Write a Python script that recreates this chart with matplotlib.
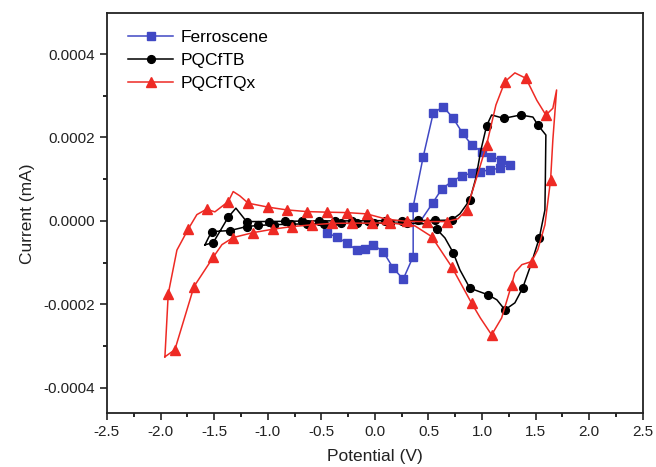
import matplotlib
matplotlib.use("Agg")
import matplotlib.pyplot as plt
from matplotlib.ticker import MultipleLocator, FormatStrFormatter

plt.rcParams['font.family'] = ['Liberation Sans', 'DejaVu Sans']

# ---------------- data ----------------
series_names = ["Ferroscene", "PQCfTB", "PQCfTQx"]

# Ferroscene (blue squares)
fc_x = [-0.451, -0.357, -0.264, -0.171, -0.093, -0.016, 0.077, 0.171, 0.264, 0.357,
        0.357, 0.451, 0.544, 0.637, 0.730, 0.818, 0.902, 0.995, 1.082, 1.175, 1.259,
        1.166, 1.073, 0.979, 0.902, 0.809, 0.715, 0.622, 0.538, 0.420]
fc_y = [-2.95e-5, -3.77e-5, -5.35e-5, -6.95e-5, -6.8e-5, -5.76e-5, -7.36e-5, -1.134e-4, -1.398e-4, -8.56e-5,
        3.43e-5, 1.542e-4, 2.583e-4, 2.741e-4, 2.463e-4, 2.103e-4, 1.823e-4, 1.662e-4, 1.542e-4, 1.463e-4, 1.343e-4,
        1.264e-4, 1.223e-4, 1.182e-4, 1.144e-4, 1.079e-4, 9.42e-5, 7.6e-5, 4.24e-5, -2.4e-6]
fc_mark = [1] * 29 + [0]

# PQCfTB (black circles)
tb_x = [-1.586, -1.508, -1.368, -1.297, -1.197,
        -0.990, -0.835, -0.680, -0.525, -0.370, -0.215, -0.060, 0.095, 0.250, 0.405, 0.560, 0.715,
        0.793, 0.886, 0.942, 0.989, 1.042, 1.089, 1.203, 1.359, 1.474, 1.523, 1.595, 1.590, 1.586,
        1.533, 1.455, 1.378, 1.306, 1.213, 1.138, 1.057, 0.886, 0.793, 0.730, 0.653, 0.576, 0.466,
        0.300, 0.145, -0.010, -0.165, -0.320, -0.475, -0.630, -0.785, -0.940, -1.095,
        -1.197, -1.353, -1.524, -1.586]
tb_y = [-5.76e-5, -5.2e-5, 8.9e-6, 3.05e-5, -1.7e-6,
        -1.5e-6, -1.0e-6, -0.5e-6, 0.0, 0.0, 0.0, 0.5e-6, 0.5e-6, 0.5e-6, 1.0e-6, 1.0e-6, 2.0e-6,
        1.68e-5, 5.04e-5, 1.03e-4, 1.70e-4, 2.28e-4, 2.54e-4, 2.46e-4, 2.54e-4, 2.49e-4, 2.29e-4, 2.06e-4, 9.8e-5, 2.6e-5,
        -4.15e-5, -1.055e-4, -1.614e-4, -1.966e-4, -2.134e-4, -1.894e-4, -1.775e-4, -1.614e-4, -1.175e-4, -7.6e-5, -4.08e-5, -1.99e-5, -7.2e-6,
        -5.5e-6, -5.5e-6, -5.5e-6, -6.0e-6, -6.0e-6, -6.5e-6, -7.0e-6, -8.0e-6, -9.0e-6, -1.1e-5,
        -1.37e-5, -2.33e-5, -2.57e-5, -5.76e-5]
tb_mark = [0, 1, 1, 0, 1,
           1, 1, 1, 1, 1, 1, 1, 1, 1, 1, 1, 1,
           0, 1, 0, 0, 1, 0, 1, 1, 0, 1, 0, 0, 0,
           1, 0, 1, 0, 1, 0, 1, 1, 0, 1, 0, 1, 0,
           1, 1, 1, 1, 1, 1, 1, 1, 1, 1,
           1, 1, 1, 0]

# PQCfTQx (red triangles)
tq_x = [-1.959, -1.928, -1.847, -1.742, -1.661, -1.570, -1.493, -1.368, -1.322, -1.260, -1.182,
        -0.995, -0.824, -0.637, -0.451, -0.264, -0.077, 0.109, 0.296, 0.482, 0.669,
        0.774, 0.855, 0.942, 1.042, 1.129, 1.213, 1.306, 1.409, 1.511, 1.595, 1.660, 1.695,
        1.660, 1.639, 1.586, 1.520, 1.462, 1.371, 1.306, 1.275, 1.182, 1.089, 0.984, 0.902,
        0.715, 0.529, 0.373, 0.140, -0.031, -0.217, -0.404, -0.590, -0.777, -0.949,
        -1.135, -1.322, -1.427, -1.508, -1.688, -1.866, -1.959]
tq_y = [-3.26e-4, -1.751e-4, -7.0e-5, -1.99e-5, 1.5e-5, 2.81e-5, 2.16e-5, 4.63e-5, 7.03e-5, 6.0e-5, 4.24e-5,
        3.29e-5, 2.64e-5, 2.23e-5, 2.09e-5, 1.99e-5, 1.68e-5, 4.1e-6, -1.2e-6, -1.7e-6, -1.7e-6,
        4.8e-6, 2.64e-5, 9.8e-5, 1.823e-4, 2.78e-4, 3.34e-4, 3.55e-4, 3.42e-4, 2.89e-4, 2.54e-4, 2.70e-4, 3.14e-4,
        1.94e-4, 9.83e-5, -9.6e-6, -6.9e-5, -9.76e-5, -1.05e-4, -1.24e-4, -1.535e-4, -2.33e-4, -2.734e-4, -2.33e-4, -1.974e-4,
        -1.096e-4, -3.76e-5, -1.2e-5, -4.8e-6, -5.5e-6, -5.5e-6, -6.0e-6, -9.6e-6, -1.37e-5, -1.99e-5,
        -2.81e-5, -4.0e-5, -5.7e-5, -8.7e-5, -1.576e-4, -3.09e-4, -3.26e-4]
tq_mark = [0, 1, 0, 1, 0, 1, 0, 1, 0, 0, 1,
           1, 1, 1, 1, 1, 1, 1, 1, 1, 1,
           0, 1, 0, 1, 0, 1, 0, 1, 0, 1, 0, 0,
           0, 1, 0, 0, 1, 0, 0, 1, 0, 1, 0, 1,
           1, 1, 0, 1, 1, 1, 1, 1, 1, 1,
           1, 1, 0, 1, 1, 1, 0]

x_ticks = [-2.5, -2.0, -1.5, -1.0, -0.5, 0.0, 0.5, 1.0, 1.5, 2.0, 2.5]
y_ticks = [-0.0004, -0.0002, 0.0000, 0.0002, 0.0004]

# ---------------- plot ----------------
fig = plt.figure(figsize=(6.56, 4.67), dpi=100)
ax = fig.add_axes([0.163, 0.1146, 0.817, 0.857])

blue = '#4048c4'
black = '#000000'
red = '#ee2a24'

def idx(flags):
    return [i for i, f in enumerate(flags) if f]

ax.plot(fc_x, fc_y, color=blue, lw=1.1, marker='s', ms=5.4, markevery=idx(fc_mark),
        label=series_names[0])
ax.plot(tb_x, tb_y, color=black, lw=1.1, marker='o', ms=5.6, markevery=idx(tb_mark),
        label=series_names[1])
ax.plot(tq_x, tq_y, color=red, lw=1.1, marker='^', ms=7.0, markevery=idx(tq_mark),
        label=series_names[2])

ax.set_xlim(-2.5, 2.5)
ax.set_ylim(-0.000462, 0.000498)
ax.set_xticks(x_ticks)
ax.set_yticks(y_ticks)
ax.xaxis.set_minor_locator(MultipleLocator(0.25))
ax.yaxis.set_minor_locator(MultipleLocator(0.0001))
ax.xaxis.set_major_formatter(FormatStrFormatter('%.1f'))
ax.yaxis.set_major_formatter(FormatStrFormatter('%.4f'))
ax.tick_params(axis='both', which='major', direction='out', length=5, width=1.2,
               labelsize=11, colors='#222222')
ax.tick_params(axis='both', which='minor', direction='out', length=3, width=1.2)
for s in ax.spines.values():
    s.set_linewidth(1.3)
    s.set_color('#222222')

ax.set_xlabel('Potential (V)', fontsize=12.5, color='#222222', labelpad=7)
ax.set_ylabel('Current (mA)', fontsize=12.5, color='#222222', labelpad=6)

leg = ax.legend(loc='upper left', bbox_to_anchor=(0.02, 0.985), frameon=False,
                fontsize=12.5, handlelength=2.6, labelspacing=0.45, handletextpad=0.4,
                borderaxespad=0.2)

fig.savefig('out.png', dpi=100)
